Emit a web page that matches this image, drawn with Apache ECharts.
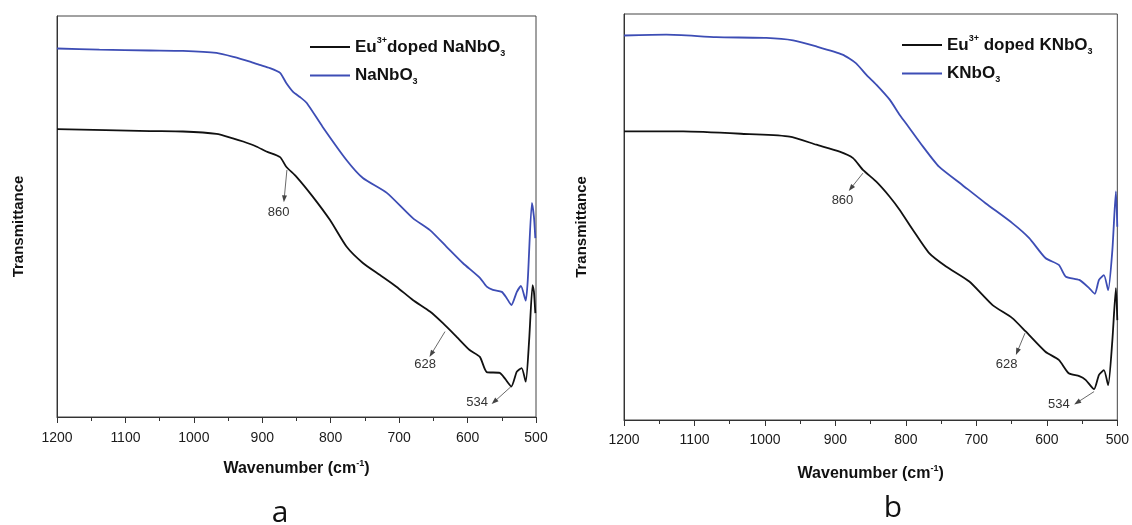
<!DOCTYPE html>
<html><head><meta charset="utf-8">
<script src="https://cdn.jsdelivr.net/npm/echarts@6/dist/echarts.min.js"></script>
<style>html,body{margin:0;padding:0;background:#fff}#c{width:1132px;height:525px}</style>
</head><body><div id="c"></div>
<script>
// ---- Panel a: NaNbO3 ----
const naWnPure = [1200,1138,1064,1016,967,942,918,904,889,874,865,855,845,835,812,777,753,718,680,655,631,607,582,572,563,550,543,536,528,522,515,512,506,503,501];
const naPure   = [91.9,91.6,91.4,91.3,90.8,89.8,88.6,87.8,87.0,85.8,83.3,81.1,79.8,78.3,72.4,64.1,59.6,55.9,49.6,46.6,42.5,38.4,34.7,32.5,31.7,31.2,29.7,27.9,31.2,32.7,29.0,34.2,53.4,49.9,44.6];
const naWnDoped = [1200,1064,1016,967,943,928,908,894,874,865,850,826,801,777,753,728,704,680,655,636,616,597,582,572,553,545,536,528,521,515,510,505,503,501];
const naDoped   = [71.8,71.3,71.2,70.6,69.5,68.7,67.4,66.2,64.8,62.4,59.9,54.9,49.1,42.5,38.4,35.4,32.5,29.2,26.3,23.4,20.0,16.7,15.0,11.2,11.0,9.5,7.6,11.3,12.2,8.8,19.2,32.9,31.2,25.9];
// ---- Panel b: KNbO3 ----
const kWnPure = [1200,1140,1069,998,960,927,890,871,856,842,823,809,800,776,753,720,687,649,625,602,583,573,554,540,532,526,519,513,507,502,500];
const kPure   = [94.7,94.9,94.3,94.1,93.5,92.0,90.0,87.9,85.0,82.6,78.9,75.2,73.1,67.4,62.4,57.9,53.4,48.5,44.8,39.9,38.2,35.3,34.5,32.5,31.1,34.5,35.7,32.0,41.9,56.3,47.6];
const kWnDoped = [1200,1116,1022,965,927,894,875,861,842,823,809,790,767,743,710,677,649,630,602,583,569,554,545,533,526,519,513,507,502,500];
const kDoped   = [71.1,71.1,70.4,69.8,67.8,66.1,64.5,61.6,58.7,55.0,51.8,46.8,41.1,37.8,34.1,28.3,25.1,21.8,16.8,14.8,11.5,10.8,9.9,7.6,11.1,12.3,8.6,19.7,32.5,24.6];
// peak annotations: label, arrow start [wn, T], arrow end [wn, T], label position [wn, T]
const naPeakLabels = ['860','628','534'];
const naArrowFrom  = [[864,61.6],[633,21.3],[537,7.5]];
const naArrowTo    = [[868,54.4],[653,15.7],[561,3.8]];
const naLabelAt    = [[876,51.1],[662,13.2],[586,3.7]];
const kPeakLabels = ['860','628','534'];
const kArrowFrom  = [[861,60.8],[631,21.4],[533,7.0]];
const kArrowTo    = [[878,57.1],[642,16.8],[557,4.3]];
const kLabelAt    = [[890,54.0],[657,13.6],[583,3.9]];
// axis
const xMin = 500, xMax = 1200, xStep = 100;
const seriesNames = ['Eu3+ doped NaNbO3','NaNbO3','Eu3+ doped KNbO3','KNbO3'];

const FONT = '"Liberation Sans", Arial, sans-serif';
const BLACK = '#111111', BLUE = '#3d4db5';
const pairs = (xs, ys) => xs.map((x, i) => [x, ys[i]]);

const richName = {
  'Eu3+ doped NaNbO3': '{b|Eu}{sup|3+}{b|doped NaNbO}{sub|3}',
  'NaNbO3': '{b|NaNbO}{sub|3}',
  'Eu3+ doped KNbO3': '{b|Eu}{sup|3+}{b| doped KNbO}{sub|3}',
  'KNbO3': '{b|KNbO}{sub|3}'
};
const legendRich = {
  b: {fontSize: 17, fontWeight: 'bold', fontFamily: FONT, color: BLACK, lineHeight: 22},
  sup: {fontSize: 9, fontWeight: 'bold', fontFamily: FONT, color: BLACK, lineHeight: 22, verticalAlign: 'top'},
  sub: {fontSize: 9, fontWeight: 'bold', fontFamily: FONT, color: BLACK, lineHeight: 22, verticalAlign: 'bottom'}
};
const axisNameRich = {
  b: {fontSize: 16, fontWeight: 'bold', fontFamily: FONT, color: BLACK, lineHeight: 20},
  sup: {fontSize: 9, fontWeight: 'bold', fontFamily: FONT, color: BLACK, lineHeight: 20, verticalAlign: 'top'}
};

function xAxis(gridIndex, margin, gap) {
  return {
    type: 'value', gridIndex, min: xMin, max: xMax, interval: xStep, inverse: true,
    axisLine: {show: true, lineStyle: {color: '#333', width: 1}},
    axisTick: {show: true, length: 6, lineStyle: {color: '#333'}},
    minorTick: {show: true, splitNumber: 2, length: 4, lineStyle: {color: '#333'}},
    splitLine: {show: false}, minorSplitLine: {show: false},
    axisLabel: {color: '#1a1a1a', fontSize: 14, fontFamily: FONT, margin: margin, showMinLabel: true, showMaxLabel: true,
                formatter: v => String(v)},
    name: '{b|Wavenumber (cm}{sup|-1}{b|)}', nameLocation: 'middle', nameGap: gap,
    nameTextStyle: {rich: axisNameRich}
  };
}
function yAxis(gridIndex, gap) {
  return {
    type: 'value', gridIndex, min: 0, max: 100,
    axisLine: {show: true, lineStyle: {color: '#333', width: 1}},
    axisTick: {show: false}, axisLabel: {show: false}, splitLine: {show: false},
    name: 'Transmittance', nameLocation: 'middle', nameGap: gap,
    nameTextStyle: {fontSize: 15, fontWeight: 'bold', fontFamily: FONT, color: BLACK, padding: [0, 20, 0, 0]}
  };
}
function annot(labels, from, to, at) {
  return {
    markLine: {
      silent: true, symbol: ['none', 'triangle'], symbolSize: [5, 7], animation: false,
      lineStyle: {color: '#444', width: 0.8, type: 'solid'},
      label: {show: false}, emphasis: {disabled: true},
      data: from.map((f, i) => [{coord: f}, {coord: to[i]}])
    },
    markPoint: {
      silent: true, symbol: 'circle', symbolSize: 0, animation: false,
      label: {show: true, position: 'inside', formatter: p => p.name, color: '#333', fontSize: 13, fontFamily: FONT},
      data: at.map((a, i) => ({name: labels[i], coord: a}))
    }
  };
}
function lineSeries(name, data, color, xi, extra) {
  return Object.assign({
    name, type: 'line', data, xAxisIndex: xi, yAxisIndex: xi,
    showSymbol: false, symbol: 'none', smooth: 0.2,
    lineStyle: {color, width: 1.8}, itemStyle: {color}, z: 3
  }, extra || {});
}

const chart = echarts.init(document.getElementById('c'), null, {renderer: 'canvas'});
chart.setOption({
  animation: false,
  backgroundColor: '#fff',
  grid: [
    {left: 57, right: 596, top: 16, bottom: 108, show: true, borderColor: '#444', borderWidth: 1},
    {left: 624, right: 13, top: 14, bottom: 105, show: true, borderColor: '#444', borderWidth: 1}
  ],
  xAxis: [xAxis(0, 14, 42), xAxis(1, 13, 44)],
  yAxis: [yAxis(0, 31), yAxis(1, 35)],
  legend: [
    {data: [seriesNames[0], seriesNames[1]], left: 305, top: 31, orient: 'vertical', icon: 'rect',
     itemWidth: 40, itemHeight: 2, itemGap: 9, selectedMode: false,
     formatter: n => richName[n], textStyle: {rich: legendRich}},
    {data: [seriesNames[2], seriesNames[3]], left: 897, top: 29, orient: 'vertical', icon: 'rect',
     itemWidth: 40, itemHeight: 2, itemGap: 9, selectedMode: false,
     formatter: n => richName[n], textStyle: {rich: legendRich}}
  ],
  graphic: [
    {type: 'text', x: 280, y: 513, style: {text: 'a', font: '30px "Open Sans", sans-serif', fill: '#111', textAlign: 'center', textVerticalAlign: 'middle'}},
    {type: 'text', x: 893, y: 508, style: {text: 'b', font: '30px "Open Sans", sans-serif', fill: '#111', textAlign: 'center', textVerticalAlign: 'middle'}}
  ],
  series: [
    lineSeries(seriesNames[0], pairs(naWnDoped, naDoped), BLACK, 0, annot(naPeakLabels, naArrowFrom, naArrowTo, naLabelAt)),
    lineSeries(seriesNames[1], pairs(naWnPure, naPure), BLUE, 0),
    lineSeries(seriesNames[2], pairs(kWnDoped, kDoped), BLACK, 1, annot(kPeakLabels, kArrowFrom, kArrowTo, kLabelAt)),
    lineSeries(seriesNames[3], pairs(kWnPure, kPure), BLUE, 1)
  ]
});
</script></body></html>
